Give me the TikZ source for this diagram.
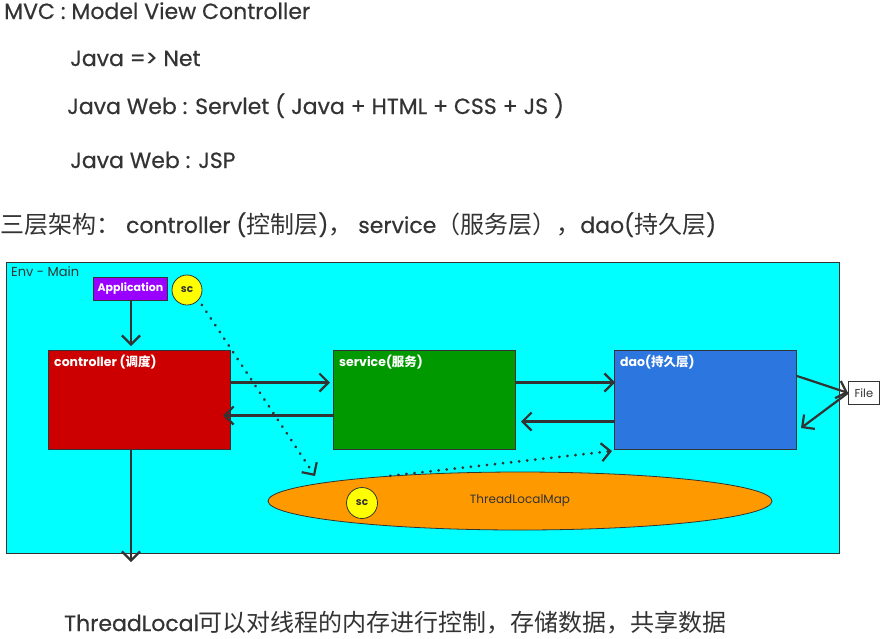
\documentclass[tikz,border=0pt]{standalone}
\usepackage{fontspec}
\setmainfont{Poppins}
\newfontfamily\heavy{Poppins}[FakeBold=0.5]
\newfontfamily\cjk{Noto Sans CJK SC}
\newcommand\zhbig[1]{{\fontsize{24}{28}\cjk #1}}
\usetikzlibrary{arrows.meta,shapes.geometric,calc}
\definecolor{ink}{HTML}{333333}
\definecolor{envc}{HTML}{00FFFF}
\definecolor{ctrlc}{HTML}{CC0000}
\definecolor{svcc}{HTML}{009900}
\definecolor{daoc}{HTML}{2C76E0}
\definecolor{appc}{HTML}{9900FF}
\definecolor{mapc}{HTML}{FF9900}
\definecolor{scc}{HTML}{FFFF00}
\tikzset{
  bigtext/.style={anchor=base west, inner sep=0pt, text=ink, font=\fontsize{22}{26}\heavy},
  layer/.style={draw=ink, line width=1pt, anchor=north west, inner sep=0pt, minimum width=182pt, minimum height=99pt},
  boxlabel/.style={anchor=north west, inner sep=0pt, text=white, font=\fontsize{12.5}{14}\selectfont\bfseries},
  arr/.style={draw=ink, line width=2.2pt, -{Straight Barb[length=9pt,width=18pt,line width=2.2pt]}},
  dots/.style={draw=ink, line width=3pt, line cap=round, dash pattern=on 0.1pt off 8pt, -{Straight Barb[length=9pt,width=18pt,line width=2.2pt,line cap=butt]}},
  scnode/.style={circle, draw=ink, fill=scc, line width=0.8pt, inner sep=0pt, text=ink, font=\fontsize{10.5}{12}\selectfont\bfseries}
}
\begin{document}
\begin{tikzpicture}[x=1pt,y=-1pt]
\useasboundingbox (0,0) rectangle (882,638);
\fill[white] (0,0) rectangle (882,638);

% header texts
\node[bigtext] (t1) at (4,19) {MVC : Model View Controller};
\node[bigtext] (t2) at (70,66) {Java => Net};
\node[bigtext] (t3) at (67,114) {Java Web : Servlet ( Java + HTML + CSS + JS )};
\node[bigtext] (t4) at (70,168) {Java Web : JSP};
\node[bigtext] (t5) at (0,233) {\zhbig{三层架构：} controller (\zhbig{控制层})\zhbig{，} service\zhbig{（服务层），}dao(\zhbig{持久层})};

% environment
\node[draw=ink, fill=envc, line width=1pt, anchor=north west, inner sep=0pt, minimum width=833pt, minimum height=291pt] (env) at (6,262) {};
\node[anchor=north west, inner sep=0pt, text=ink, font=\fontsize{13}{15}\selectfont] (envlbl) at (11,266) {Env - Main};

\node[draw=ink, fill=appc, line width=0.8pt, anchor=north west, inner sep=0pt, minimum width=74pt, minimum height=23pt, text=white, font=\fontsize{11}{13}\selectfont\bfseries] (app) at (93,277) {Application};
\node[scnode, minimum size=30pt] (sc1) at (187,290) {sc};

\node[layer, fill=ctrlc] (ctrl) at (48,350) {};
\node[layer, fill=svcc] (svc) at (333,350) {};
\node[layer, fill=daoc] (dao) at (614,350) {};
\node[boxlabel] (ctrllbl) at ($(ctrl.north west)+(6,5)$) {controller ({\cjk 调度})};
\node[boxlabel] (svclbl) at ($(svc.north west)+(6,5)$) {service({\cjk 服务})};
\node[boxlabel] (daolbl) at ($(dao.north west)+(6,5)$) {dao({\cjk 持久层})};

\node[draw=ink, fill=white, line width=0.8pt, anchor=north west, inner sep=0pt, minimum width=31pt, minimum height=23pt, text=ink, font=\fontsize{11.5}{13}\selectfont] (file) at (848,381) {File};

\node[ellipse, draw=ink, fill=mapc, line width=0.8pt, minimum width=504pt, minimum height=58pt, inner sep=0pt, text=ink, font=\fontsize{12}{14}\selectfont] (tlm) at (520,501) {ThreadLocalMap};
\node[scnode, minimum size=31pt] (sc2) at (362,503) {sc};

\node[anchor=base west, inner sep=0pt, text=ink, font=\fontsize{22}{26}\heavy] (bottom) at (64,631) {ThreadLocal\zhbig{可以对线程的内存进行控制，存储数据，共享数据}};

% coordinates for free ends
\coordinate (append) at (131,346);
\coordinate (appstart) at (131,300);
\coordinate (ctrlbot) at (131,449);
\coordinate (downend) at (131,562);
\coordinate (scend) at (315,476);
\coordinate (daoend) at (612,451);

% connectors
\draw[arr] (appstart) -- (append);
\draw[arr] ([yshift=17.5pt]ctrl.east) -- ([xshift=-3pt,yshift=17.5pt]svc.west);
\draw[arr] ([yshift=-15.5pt]svc.west) -- ([xshift=-8pt,yshift=-15.5pt]ctrl.east);
\draw[arr] ([yshift=17.5pt]svc.east) -- ([xshift=1pt,yshift=17.5pt]dao.west);
\draw[arr] ([yshift=-21.5pt]dao.west) -- ([xshift=5pt,yshift=-21.5pt]svc.east);
\draw[arr] ([yshift=24pt]dao.east) -- (file.west);
\draw[arr] (file.west) -- ([xshift=4pt,yshift=-28pt]dao.east);
\draw[arr] (ctrlbot) -- (downend);
\draw[dots] ([shift={(4pt,-4pt)}]sc1.south east) -- (scend);
\draw[dots] (tlm.169) -- (daoend);
\end{tikzpicture}
\end{document}
